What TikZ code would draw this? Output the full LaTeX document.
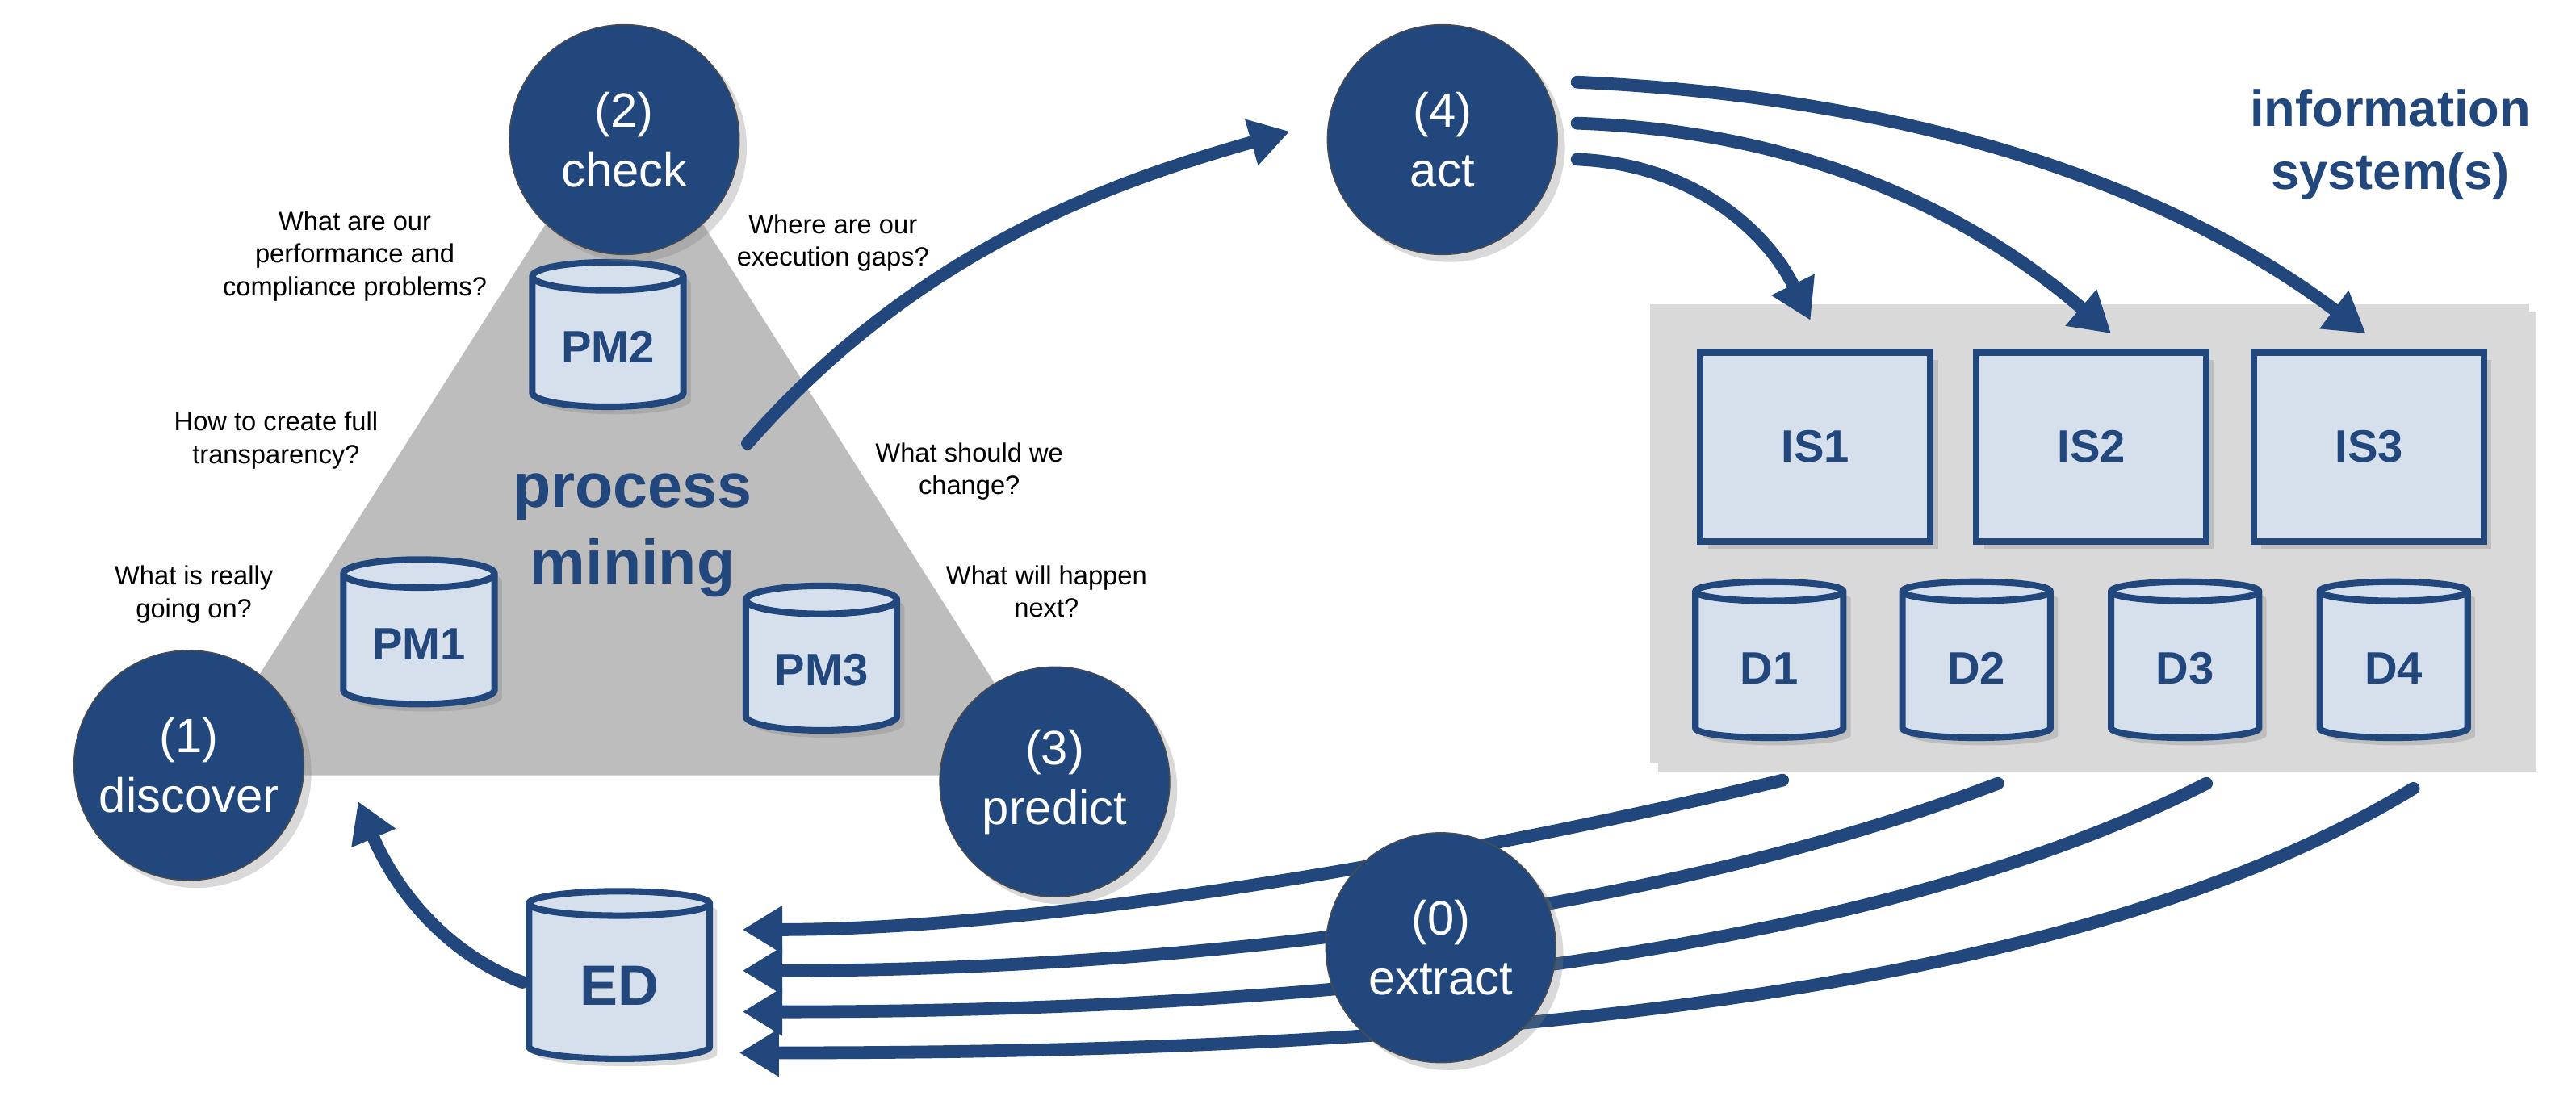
\documentclass[tikz,border=0pt]{standalone}
\usepackage{fontspec}
\setmainfont{Liberation Sans}
\usetikzlibrary{shapes.geometric,arrows.meta,shadows}
\definecolor{db}{HTML}{21477D}
\definecolor{lb}{HTML}{D6E0EC}
\begin{document}
\begin{tikzpicture}[x=0.02035cm,y=-0.02035cm,
  stage/.style={circle,fill=db,draw=black!70,thin,minimum size=140*0.02035cm,text=white,font=\fontsize{17}{21}\selectfont,align=center,inner sep=0pt,drop shadow={opacity=0.3}},
  cyl/.style={cylinder,shape border rotate=90,aspect=0.25,draw=db,line width=2.3pt,fill=lb,minimum width=#1,text=db,font=\bfseries\fontsize{16}{18}\selectfont,drop shadow={opacity=0.3}},
  isbox/.style={draw=db,line width=2.3pt,fill=lb,minimum width=140*0.02035cm,minimum height=115*0.02035cm,text=db,font=\bfseries\fontsize{16}{18}\selectfont,drop shadow={opacity=0.3}},
  q/.style={font=\fontsize{9.3}{11.5}\selectfont,align=center},
  arr/.style={draw=db,line width=4.5pt,line cap=round,-{Triangle[length=14pt,width=16pt]}}]
\useasboundingbox (0,0) rectangle (1568,667);
% triangle
\fill[black!26] (380,61) -- (119,472) -- (641,472) -- cycle;
% IS box
\node[fill=black!15,minimum width=535*0.02035cm,minimum height=280*0.02035cm,drop shadow={opacity=0.3}] (isb) at (1272,325) {};
\node[isbox] (is1) at (1105,272) {IS1};
\node[isbox] (is2) at (1273,272) {IS2};
\node[isbox] (is3) at (1442,272) {IS3};
\node[cyl=90*0.02035cm,minimum height=95*0.02035cm] (d1) at (1077,407) {D1};
\node[cyl=90*0.02035cm,minimum height=95*0.02035cm] (d2) at (1203,407) {D2};
\node[cyl=90*0.02035cm,minimum height=95*0.02035cm] (d3) at (1330,407) {D3};
\node[cyl=90*0.02035cm,minimum height=95*0.02035cm] (d4) at (1457,407) {D4};
\node[text=db,font=\bfseries\fontsize{18}{22}\selectfont,align=center] (info) at (1455,88) {information\\system(s)};
% PM cylinders
\node[cyl=92*0.02035cm,minimum height=88*0.02035cm] (pm2) at (370,211) {PM2};
\node[cyl=92*0.02035cm,minimum height=88*0.02035cm] (pm1) at (255,392) {PM1};
\node[cyl=92*0.02035cm,minimum height=88*0.02035cm] (pm3) at (500,408) {PM3};
\node[text=db,font=\bfseries\fontsize{22}{27}\selectfont,align=center] (pmn) at (385,326) {process\\mining};
% questions
\node[q] (q1) at (216,156) {What are our\\performance and\\compliance problems?};
\node[q] (q2) at (507,148) {Where are our\\execution gaps?};
\node[q] (q3) at (168,268) {How to create full\\transparency?};
\node[q] (q4) at (590,287) {What should we\\change?};
\node[q] (q5) at (118,362) {What is really\\going on?};
\node[q] (q6) at (637,360) {What will happen\\next?};
% ED
\node[cyl=110*0.02035cm,minimum height=102*0.02035cm,font=\bfseries\fontsize{20}{24}\selectfont] (ed) at (377,600) {ED};
% coordinates
\coordinate (s0) at (455,270); \coordinate (e0) at (785,80);
\coordinate (a1) at (960,50); \coordinate (t1) at (1440,203);
\coordinate (a2) at (960,75); \coordinate (t2) at (1285,203);
\coordinate (a3) at (960,97); \coordinate (t3) at (1102,195);
\coordinate (x1) at (1085,475); \coordinate (x2) at (1216,477);
\coordinate (x3) at (1343,477); \coordinate (x4) at (1469,480);
\coordinate (y1) at (452,566); \coordinate (y2) at (452,591);
\coordinate (y3) at (452,616); \coordinate (y4) at (450,641);
\coordinate (edl) at (318,598); \coordinate (dis) at (218,488);
% arrows
\draw[arr] (s0) .. controls (560,150) and (680,110) .. (e0);
\draw[arr] (a1) .. controls (1180,60) and (1330,120) .. (t1);
\draw[arr] (a2) .. controls (1100,80) and (1200,130) .. (t2);
\draw[arr] (a3) .. controls (1030,100) and (1075,140) .. (t3);
\draw[arr] (x1) .. controls (900,520) and (640,566) .. (y1);
\draw[arr] (x2) .. controls (1000,560) and (700,591) .. (y2);
\draw[arr] (x3) .. controls (1120,590) and (760,616) .. (y3);
\draw[arr] (x4) .. controls (1240,620) and (820,641) .. (y4);
\draw[arr] (edl) .. controls (270,580) and (240,540) .. (dis);
% stage circles
\node[stage] (c2) at (380,85) {(2)\\check};
\node[stage] (c1) at (115,466) {(1)\\discover};
\node[stage] (c3) at (642,476) {(3)\\predict};
\node[stage] (c4) at (878,85) {(4)\\act};
\node[stage] (c0) at (877,577) {(0)\\extract};
\end{tikzpicture}
\end{document}
